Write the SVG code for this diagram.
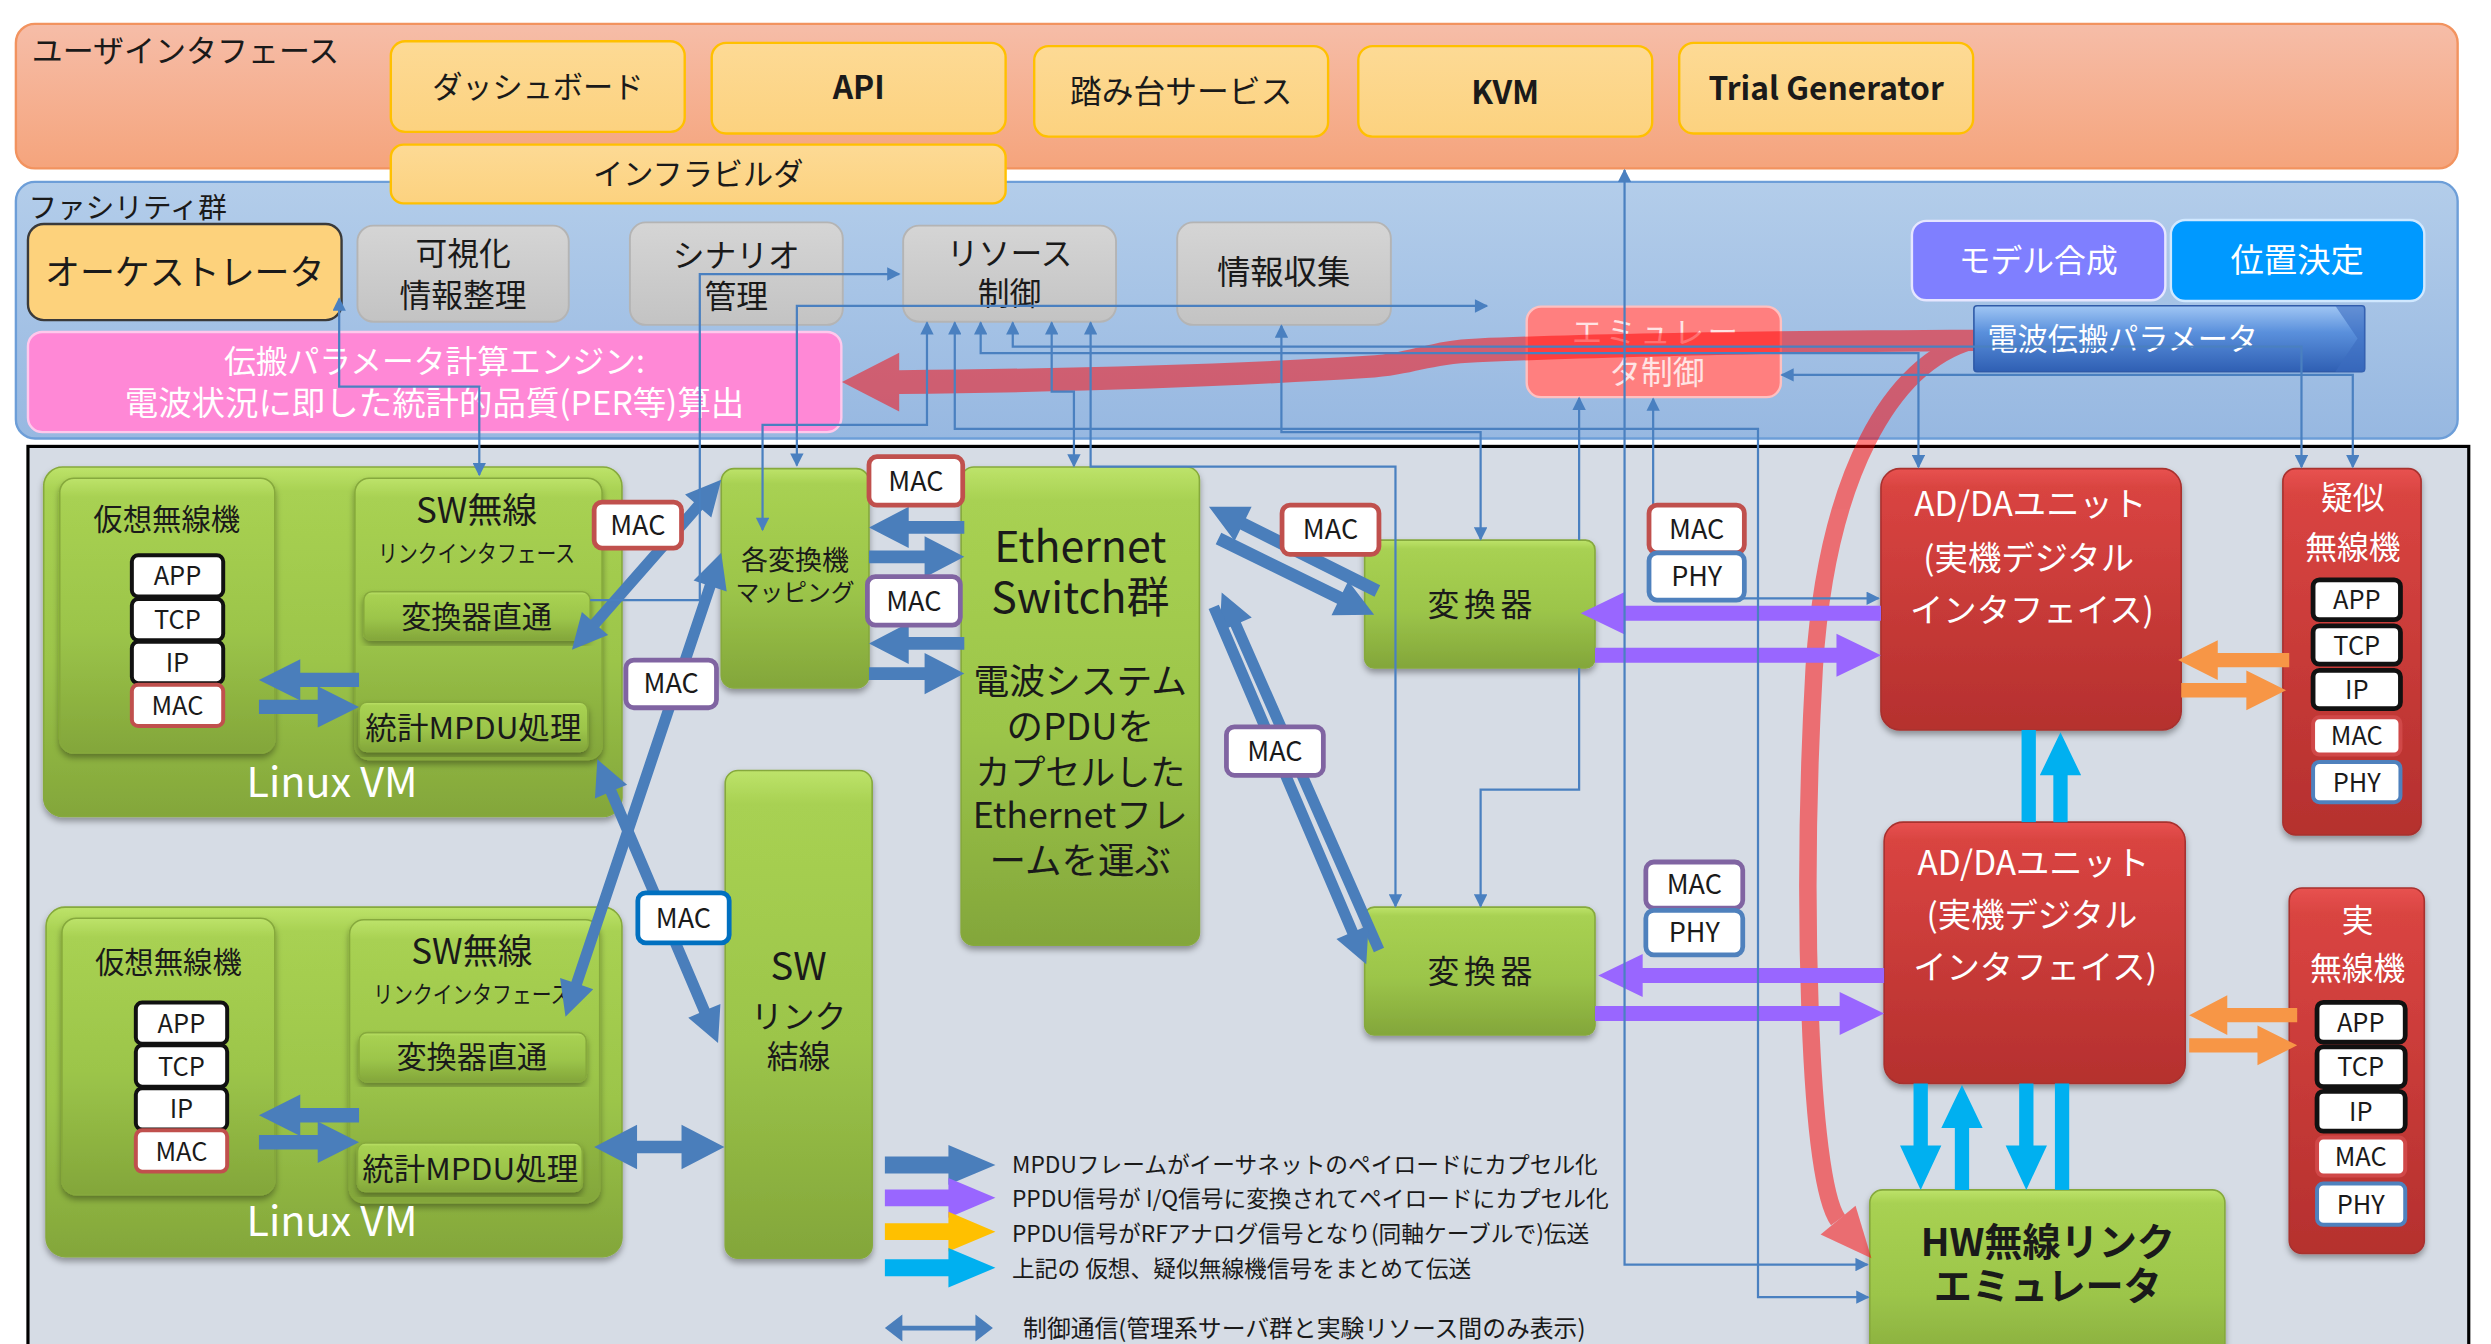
<svg xmlns="http://www.w3.org/2000/svg" width="2491" height="1344" viewBox="0 0 2491 1344">
<defs>
<style>
text{font-family:"Noto Sans CJK JP","Noto Sans",sans-serif;fill:#1a1a1a}
.c{text-anchor:middle}
.w{fill:#fff}
.b{font-weight:bold}
.grn{fill:url(#gGreen);stroke:#86a93c;stroke-width:1;filter:url(#sh)}
.red{fill:url(#gRed);stroke:#a8302e;stroke-width:1;filter:url(#sh)}
.gry{fill:url(#gGray);stroke:#b4b4b4;stroke-width:1.2}
.yel{fill:url(#gYel);stroke:#ffc000;stroke-width:1.5}
.lbl{fill:#fff;stroke-width:3}
.stk{fill:#fff;stroke:#111;stroke-width:2.5}
.mpdu{fill:#4a7ebb}
.ppdu{fill:#9966ff}
.org{fill:#f79646}
.cy{fill:#00b0f0}
.ctl{fill:none;stroke:#4a80c0;stroke-width:1.4;marker-start:url(#ah);marker-end:url(#ah)}
.ctl1{fill:none;stroke:#4a80c0;stroke-width:1.4;marker-end:url(#ah)}
.ctl0{fill:none;stroke:#4a80c0;stroke-width:1.4;marker-start:url(#ah)}
.lg{font-size:14.3px}
</style>
<linearGradient id="gUI" x1="0" y1="0" x2="0" y2="1"><stop offset="0" stop-color="#f6bda8"/><stop offset="1" stop-color="#f5a47c"/></linearGradient>
<linearGradient id="gFac" x1="0" y1="0" x2="0" y2="1"><stop offset="0" stop-color="#b3cdea"/><stop offset="1" stop-color="#97b8e1"/></linearGradient>
<linearGradient id="gYel" x1="0" y1="0" x2="0" y2="1"><stop offset="0" stop-color="#fdda95"/><stop offset="1" stop-color="#fcd27f"/></linearGradient>
<linearGradient id="gGray" x1="0" y1="0" x2="0" y2="1"><stop offset="0" stop-color="#d5d5d5"/><stop offset="1" stop-color="#c3c3c3"/></linearGradient>
<linearGradient id="gGreen" x1="0" y1="0" x2="0" y2="1"><stop offset="0" stop-color="#bde36a"/><stop offset="0.07" stop-color="#a8d152"/><stop offset="0.55" stop-color="#9cc54a"/><stop offset="1" stop-color="#83a63a"/></linearGradient>
<linearGradient id="gRed" x1="0" y1="0" x2="0" y2="1"><stop offset="0" stop-color="#e85250"/><stop offset="0.07" stop-color="#d94441"/><stop offset="1" stop-color="#b5302e"/></linearGradient>
<linearGradient id="gDen" x1="0" y1="0" x2="0" y2="1"><stop offset="0" stop-color="#a0c6f4"/><stop offset="0.4" stop-color="#5a90dc"/><stop offset="1" stop-color="#2f5fb3"/></linearGradient>
<filter id="sh" x="-5%" y="-5%" width="110%" height="115%"><feDropShadow dx="0" dy="2.5" stdDeviation="2" flood-color="#000" flood-opacity="0.35"/></filter>
<marker id="ah" viewBox="0 0 10 10" refX="9" refY="5" markerWidth="6.5" markerHeight="6" orient="auto-start-reverse"><path d="M0,0 L10,5 L0,10 z" fill="#4a80c0"/></marker>
</defs>
<g transform="scale(1.58865)">

<!-- bands -->
<g id="ui-band"><rect x="10" y="15" width="1537" height="91" rx="12" fill="url(#gUI)" stroke="#f2935f" stroke-width="1.5"/><text x="20" y="39" font-size="19.5">ユーザインタフェース</text></g>
<g id="facility-band"><rect x="10" y="114.5" width="1537" height="161.5" rx="12" fill="url(#gFac)" stroke="#6d9ed8" stroke-width="1.5"/><text x="18" y="137.5" font-size="18">ファシリティ群</text></g>
<g id="lab-panel"><rect x="17.6" y="281" width="1536.4" height="600" fill="#d6dce5" stroke="#000" stroke-width="2"/></g>

<!-- UI nodes -->
<g id="dashboard"><rect class="yel" x="246" y="26" width="185" height="57" rx="9"/><text class="c" x="338.5" y="62" font-size="19">ダッシュボード</text></g>
<g id="api"><rect class="yel" x="448" y="27" width="185" height="57" rx="9"/><text class="c b" x="540.5" y="62.5" font-size="20">API</text></g>
<g id="fumidai"><rect class="yel" x="651" y="29" width="185" height="57" rx="9"/><text class="c" x="743.5" y="65" font-size="20">踏み台サービス</text></g>
<g id="kvm"><rect class="yel" x="855" y="29" width="185" height="57" rx="9"/><text class="c b" x="947.5" y="65.5" font-size="20">KVM</text></g>
<g id="trial-generator"><rect class="yel" x="1057" y="27" width="185" height="57" rx="9"/><text class="c b" x="1149.5" y="63" font-size="20">Trial Generator</text></g>
<g id="infra-builder"><rect class="yel" x="246" y="91" width="387" height="37" rx="8"/><text class="c" x="439.5" y="116.5" font-size="19">インフラビルダ</text></g>

<!-- Facility nodes -->
<g id="orchestrator"><rect x="17.6" y="141" width="197.4" height="60.5" rx="10" fill="#fdd27c" stroke="#3a3a3a" stroke-width="1.5"/><text class="c" x="116.3" y="179.5" font-size="22">オーケストレータ</text></g>
<g id="visualize"><rect class="gry" x="225" y="142" width="133" height="60.5" rx="10"/><text class="c" x="291.5" y="167" font-size="20">可視化</text><text class="c" x="291.5" y="193.5" font-size="20">情報整理</text></g>
<g id="scenario"><rect class="gry" x="396.5" y="140" width="134" height="64.5" rx="10"/><text class="c" x="463.5" y="168" font-size="20">シナリオ</text><text class="c" x="463.5" y="194" font-size="20">管理</text></g>
<g id="resource"><rect class="gry" x="568.5" y="142" width="134" height="60.5" rx="10"/><text class="c" x="635.5" y="166.5" font-size="20">リソース</text><text class="c" x="635.5" y="192" font-size="20">制御</text></g>
<g id="info-collect"><rect class="gry" x="741" y="140" width="134.5" height="64.5" rx="10"/><text class="c" x="808" y="179" font-size="21">情報収集</text></g>
<g id="model"><rect x="1203.5" y="139" width="159.5" height="50" rx="9" fill="#7f7fff" stroke="#e6e6ff" stroke-width="1.5"/><text class="c w" x="1283" y="171" font-size="20">モデル合成</text></g>
<g id="position"><rect x="1366.5" y="138.5" width="159.5" height="51" rx="9" fill="#0099ff" stroke="#d0e8ff" stroke-width="1.5"/><text class="c w" x="1446" y="171" font-size="21">位置決定</text></g>
<g id="engine"><rect x="17.6" y="209" width="512" height="63" rx="9" fill="#ff88d6" stroke="#ffc8ec" stroke-width="1.5"/><text class="c w" x="273.5" y="235" font-size="20">伝搬パラメータ計算エンジン:</text><text class="c w" x="273.5" y="261" font-size="20.5" textLength="390" lengthAdjust="spacingAndGlyphs">電波状況に即した統計的品質(PER等)算出</text></g>
<g id="emu-control"><rect x="961" y="193" width="160" height="57" rx="9" fill="#ff7f7f" stroke="#ffc0c0" stroke-width="1.5"/><text class="c" x="1043" y="216" font-size="19" letter-spacing="2.5" style="fill:#ffe4e4">エミュレー</text><text class="c" x="1043" y="242" font-size="20" style="fill:#ffe4e4">タ制御</text></g>

<!-- Lab nodes -->
<g id="linux-vm-1">
<rect class="grn" x="27.5" y="294" width="364" height="220" rx="12"/>
<rect class="grn" x="37.6" y="301" width="135.4" height="173" rx="9"/>
<rect class="grn" x="223.4" y="301" width="155.6" height="177" rx="9"/>
<rect class="grn" x="229" y="372.5" width="142.5" height="30.5" rx="5"/>
<rect class="grn" x="226" y="442" width="144" height="31" rx="5"/>
<text class="c" x="105" y="333.5" font-size="18.5">仮想無線機</text>
<text class="c" x="300" y="329.5" font-size="22">SW無線</text>
<text class="c" x="300" y="354" font-size="15" textLength="124" lengthAdjust="spacingAndGlyphs">リンクインタフェース</text>
<text class="c" x="300" y="395" font-size="19">変換器直通</text>
<text class="c" x="298" y="465" font-size="19" textLength="136" lengthAdjust="spacingAndGlyphs">統計MPDU処理</text>
<text class="c w" x="209" y="501.5" font-size="26">Linux VM</text>
<rect class="stk" x="83" y="349.5" width="57.5" height="26" rx="4"/><text class="c" x="111.7" y="368.5" font-size="16">APP</text>
<rect class="stk" x="83" y="377" width="57.5" height="26" rx="4"/><text class="c" x="111.7" y="396" font-size="16">TCP</text>
<rect class="stk" x="83" y="404" width="57.5" height="26" rx="4"/><text class="c" x="111.7" y="423" font-size="16">IP</text>
<rect class="stk" x="83" y="431" width="57.5" height="26" rx="4" style="stroke:#c0504d"/><text class="c" x="111.7" y="450" font-size="16">MAC</text>
</g>
<g id="linux-vm-2">
<rect class="grn" x="29" y="571" width="362.5" height="220" rx="12"/>
<rect class="grn" x="39" y="578" width="134" height="174" rx="9"/>
<rect class="grn" x="220" y="579" width="157.5" height="178" rx="9"/>
<rect class="grn" x="226" y="650" width="143" height="31" rx="5"/>
<rect class="grn" x="225" y="719.5" width="141.5" height="30.5" rx="5"/>
<text class="c" x="106" y="612.5" font-size="18.5">仮想無線機</text>
<text class="c" x="297" y="607" font-size="22">SW無線</text>
<text class="c" x="297" y="631.5" font-size="15" textLength="124" lengthAdjust="spacingAndGlyphs">リンクインタフェース</text>
<text class="c" x="297" y="672.5" font-size="19">変換器直通</text>
<text class="c" x="296" y="742.5" font-size="19" textLength="136" lengthAdjust="spacingAndGlyphs">統計MPDU処理</text>
<text class="c w" x="209" y="778" font-size="26">Linux VM</text>
<rect class="stk" x="85.5" y="631" width="57.5" height="26" rx="4"/><text class="c" x="114.2" y="650" font-size="16">APP</text>
<rect class="stk" x="85.5" y="658" width="57.5" height="26" rx="4"/><text class="c" x="114.2" y="677" font-size="16">TCP</text>
<rect class="stk" x="85.5" y="685" width="57.5" height="26" rx="4"/><text class="c" x="114.2" y="704" font-size="16">IP</text>
<rect class="stk" x="85.5" y="711.5" width="57.5" height="26" rx="4" style="stroke:#c0504d"/><text class="c" x="114.2" y="730.5" font-size="16">MAC</text>
</g>
<g id="mapping"><rect class="grn" x="454" y="295" width="93" height="138" rx="8"/><text class="c" x="500.5" y="358.5" font-size="17">各変換機</text><text class="c" x="500.5" y="378.5" font-size="15">マッピング</text></g>
<g id="sw-link"><rect class="grn" x="456.5" y="485" width="92.5" height="307" rx="8"/><text class="c" x="502.7" y="617" font-size="24">SW</text><text class="c" x="502.7" y="647" font-size="20">リンク</text><text class="c" x="502.7" y="672" font-size="20">結線</text></g>
<g id="ethernet-switch"><rect class="grn" x="605" y="294" width="150" height="301" rx="8"/>
<text class="c" x="680" y="354" font-size="27">Ethernet</text>
<text class="c" x="680" y="386" font-size="27">Switch群</text>
<text class="c" x="680" y="437" font-size="22.5">電波システム</text>
<text class="c" x="680" y="466" font-size="23">のPDUを</text>
<text class="c" x="680" y="494" font-size="22">カプセルした</text>
<text class="c" x="680" y="521" font-size="22.5">Ethernetフレ</text>
<text class="c" x="680" y="550" font-size="23">ームを運ぶ</text></g>
<g id="converter-1"><rect class="grn" x="859" y="340" width="145" height="80.5" rx="6"/><text class="c" x="933" y="388" font-size="20" letter-spacing="3">変換器</text></g>
<g id="converter-2"><rect class="grn" x="859" y="571" width="145" height="80.5" rx="6"/><text class="c" x="933" y="619" font-size="20" letter-spacing="3">変換器</text></g>
<g id="adda-1"><rect class="red" x="1184" y="295" width="189" height="164.5" rx="12"/><text class="c w" x="1278" y="324.5" font-size="21">AD/DAユニット</text><text class="c w" x="1277" y="359" font-size="21">(実機デジタル</text><text class="c w" x="1279" y="391.5" font-size="21">インタフェイス)</text></g>
<g id="adda-2"><rect class="red" x="1186" y="517.5" width="189.5" height="164.5" rx="12"/><text class="c w" x="1280" y="550.5" font-size="21">AD/DAユニット</text><text class="c w" x="1279" y="583.5" font-size="21">(実機デジタル</text><text class="c w" x="1281" y="616.5" font-size="21">インタフェイス)</text></g>
<g id="pseudo-radio"><rect class="red" x="1437" y="295" width="87" height="230.5" rx="8"/>
<text class="c w" x="1481" y="320.5" font-size="20">疑似</text><text class="c w" x="1481" y="352" font-size="20">無線機</text>
<rect class="stk" x="1456" y="365" width="55" height="25" rx="4" style="stroke-width:3"/><text class="c" x="1483.5" y="383.5" font-size="16">APP</text>
<rect class="stk" x="1456" y="394" width="55" height="24" rx="4" style="stroke-width:3"/><text class="c" x="1483.5" y="412" font-size="16">TCP</text>
<rect class="stk" x="1456" y="422" width="55" height="24" rx="4" style="stroke-width:3"/><text class="c" x="1483.5" y="440" font-size="16">IP</text>
<rect class="stk" x="1456" y="451.5" width="55" height="23.5" rx="4" style="stroke:#d04848"/><text class="c" x="1483.5" y="469" font-size="16">MAC</text>
<rect class="stk" x="1456" y="479.6" width="55" height="25.4" rx="4" style="stroke:#4f81bd"/><text class="c" x="1483.5" y="498.5" font-size="16">PHY</text></g>
<g id="real-radio"><rect class="red" x="1441" y="559" width="85" height="230" rx="8"/>
<text class="c w" x="1484" y="586.5" font-size="20">実</text><text class="c w" x="1484" y="617" font-size="20">無線機</text>
<rect class="stk" x="1458.5" y="631" width="55.5" height="25" rx="4" style="stroke-width:3"/><text class="c" x="1486" y="649.5" font-size="16">APP</text>
<rect class="stk" x="1458.5" y="659" width="55.5" height="25" rx="4" style="stroke-width:3"/><text class="c" x="1486" y="677.5" font-size="16">TCP</text>
<rect class="stk" x="1458.5" y="687" width="55.5" height="25" rx="4" style="stroke-width:3"/><text class="c" x="1486" y="705.5" font-size="16">IP</text>
<rect class="stk" x="1458.5" y="716" width="55.5" height="24" rx="4" style="stroke:#d04848"/><text class="c" x="1486" y="734" font-size="16">MAC</text>
<rect class="stk" x="1458.5" y="745" width="55.5" height="26" rx="4" style="stroke:#4f81bd"/><text class="c" x="1486" y="764" font-size="16">PHY</text></g>
<g id="hw-emulator"><rect class="grn" x="1177" y="749" width="223.5" height="120" rx="8"/><text class="c b" x="1289" y="790.5" font-size="24">HW無線リンク</text><text class="c b" x="1289" y="818.5" font-size="24">エミュレータ</text></g>

<!-- red propagation arrows -->
<g id="propagation-flow" opacity="0.5">
<path d="M1243,207.5 C1120,208 1000,210 930,213 C900,214 890,222 860,224 C780,229 680,232 566,233 L566,222 L530,240.5 L566,259 L566,248 C680,247 780,243 860,238 C890,236 900,229 930,228 C1000,225 1120,222 1243,221 Z" fill="#ff0000"/>
<path d="M1243,214 C1190,228 1150,300 1142,420 C1134,560 1138,742 1157,768" fill="none" stroke="#ff0000" stroke-width="11"/>
<polygon points="1178,792 1168,759 1146,777" fill="#ff0000"/>
</g>
<g id="radio-param"><rect x="1242.5" y="192.5" width="246" height="41.5" rx="2" fill="url(#gDen)" stroke="#2f5aa8" stroke-width="1"/><polygon points="1470,192.5 1488.5,192.5 1488.5,234 1470,234 1484,213" fill="#3c6cc0" opacity="0.6"/><text class="w" x="1251" y="220" font-size="19">電波伝搬パラメータ</text></g>

<!-- thick data arrows -->
<g id="data-arrows">
<polygon class="mpdu" points="226,423.5 189,423.5 189,415 163,428 189,441 189,432.5 226,432.5"/>
<polygon class="mpdu" points="163,440.5 200,440.5 200,432 226,445 200,458 200,449.5 163,449.5"/>
<polygon class="mpdu" points="226,697.5 189,697.5 189,689 163,702 189,715 189,706.5 226,706.5"/>
<polygon class="mpdu" points="163,714.5 200,714.5 200,706 226,719 200,732 200,723.5 163,723.5"/>
<polygon class="mpdu" points="374,722 401,708 401,718 429,718 429,708 456,722 429,736 429,726 401,726 401,736"/>
<polygon class="mpdu" points="607,328 572,328 572,319 547,332 572,345 572,336 607,336"/>
<polygon class="mpdu" points="547,346.5 582,346.5 582,337.5 607,350.5 582,363.5 582,354.5 547,354.5"/>
<polygon class="mpdu" points="607,401 572,401 572,392 547,405 572,418 572,409 607,409"/>
<polygon class="mpdu" points="547,420 582,420 582,411 607,424 582,437 582,428 547,428"/>
<path class="mpdu" transform="translate(454,302) rotate(131.3)" d="M0,0 L22,-11 L22,-3.5 L120.4,-3.5 L120.4,-11 L142.4,0 L120.4,11 L120.4,3.5 L22,3.5 L22,11 Z"/>
<path class="mpdu" transform="translate(454,348) rotate(108.56)" d="M0,0 L22,-11 L22,-3.5 L286,-3.5 L286,-11 L308,0 L286,11 L286,3.5 L22,3.5 L22,11 Z"/>
<path class="mpdu" transform="translate(376,478) rotate(66.94)" d="M0,0 L22,-11 L22,-3.5 L172,-3.5 L172,-11 L194,0 L172,11 L172,3.5 L22,3.5 L22,11 Z"/>
<path class="mpdu" transform="translate(867,372) rotate(-153.43)" d="M0,-4 L94.5,-4 L94.5,-12 L118.5,0 L94.5,12 L94.5,4 L0,4 Z"/>
<path class="mpdu" transform="translate(767,339) rotate(26.09)" d="M0,-4 L85.1,-4 L85.1,-12 L109.1,0 L85.1,12 L85.1,4 L0,4 Z"/>
<path class="mpdu" transform="translate(868,598) rotate(-113.75)" d="M0,-3.5 L223.8,-3.5 L223.8,-11 L245.8,0 L223.8,11 L223.8,3.5 L0,3.5 Z"/>
<path class="mpdu" transform="translate(764,382) rotate(66.89)" d="M0,-3.5 L222.6,-3.5 L222.6,-11 L244.6,0 L222.6,11 L222.6,3.5 L0,3.5 Z"/>
<polygon class="ppdu" points="1184,381.3 1023,381.3 1023,372.5 995,386 1023,399.5 1023,390.7 1184,390.7"/>
<polygon class="ppdu" points="1004,407.8 1156,407.8 1156,399 1184,412.5 1156,426 1156,417.2 1004,417.2"/>
<polygon class="ppdu" points="1186,609.3 1034,609.3 1034,600.5 1006,614 1034,627.5 1034,618.7 1186,618.7"/>
<polygon class="ppdu" points="1004,633.3 1158,633.3 1158,624.5 1186,638 1158,651.5 1158,642.7 1004,642.7"/>
<polygon class="org" points="1441,411 1396,411 1396,403 1371,415.5 1396,428 1396,420 1441,420"/>
<polygon class="org" points="1373,430 1414,430 1414,422 1439,434.5 1414,447 1414,439 1373,439"/>
<polygon class="org" points="1446,634.5 1402,634.5 1402,626.5 1378,639 1402,651.5 1402,643.5 1446,643.5"/>
<polygon class="org" points="1378,653.5 1421,653.5 1421,645.5 1446,658 1421,670.5 1421,662.5 1378,662.5"/>
<rect class="cy" x="1272.5" y="459.5" width="9" height="58"/>
<polygon class="cy" points="1292.5,517.5 1292.5,488 1284,488 1297,461 1310,488 1301.5,488 1301.5,517.5"/>
<polygon class="cy" points="1204.5,682 1204.5,721 1196,721 1209,749 1222,721 1213.5,721 1213.5,682"/>
<polygon class="cy" points="1230.5,749 1230.5,710 1222,710 1235,683 1248,710 1239.5,710 1239.5,749"/>
<polygon class="cy" points="1271,682 1271,721 1262.5,721 1275.5,749 1288.5,721 1280,721 1280,682"/>
<rect class="cy" x="1293.5" y="682" width="9" height="67"/>
</g>

<!-- control connectors -->
<g id="connectors">
<path class="ctl" d="M213.5,188 V243.4 H301.7 V299"/>
<path class="ctl1" d="M371.5,377.7 H440.5 V172.5 H566"/>
<path class="ctl" d="M501.6,293 V192.6 H936"/>
<path class="ctl" d="M583.5,203 V267.5 H480 V333.5"/>
<path class="ctl" d="M601,203 V270 H1106.6 V816.5 H1176"/>
<path class="ctl" d="M806.6,205 V272 H932 V339.5"/>
<path class="ctl" d="M686.5,203 V293.7 H878.4 V570.5"/>
<path class="ctl" d="M662,203 V246.5 H676 V293.5"/>
<path class="ctl0" d="M994,250.5 V340"/>
<path class="ctl1" d="M994,420.5 V497 H932 V570.5"/>
<path class="ctl" d="M1022.6,107 V796 H1175.5"/>
<path class="ctl" d="M1040.6,251 V376.6 H1182.5"/>
<path class="ctl" d="M617.3,203 V222.3 H1207.6 V294"/>
<path class="ctl" d="M637.5,203 V218.2 H1448.7 V294"/>
<path class="ctl" d="M1121.5,236 H1481 V294"/>
</g>

<!-- MAC / PHY labels -->
<g id="mac-labels">
<rect class="lbl" x="374" y="316" width="55" height="29" rx="5" stroke="#c0504d"/><text class="c" x="401.5" y="336.5" font-size="17">MAC</text>
<rect class="lbl" x="394" y="415.5" width="57" height="30" rx="5" stroke="#8064a2"/><text class="c" x="422.5" y="436.5" font-size="17">MAC</text>
<rect class="lbl" x="547" y="287.5" width="59" height="30.5" rx="5" stroke="#c0504d"/><text class="c" x="576.5" y="309" font-size="17">MAC</text>
<rect class="lbl" x="546" y="363" width="58.5" height="30.5" rx="5" stroke="#8064a2"/><text class="c" x="575.2" y="384.5" font-size="17">MAC</text>
<rect class="lbl" x="401.5" y="562" width="57.5" height="31.5" rx="5" stroke="#0070c0"/><text class="c" x="430.2" y="584" font-size="17">MAC</text>
<rect class="lbl" x="807" y="318" width="61" height="31" rx="5" stroke="#c0504d"/><text class="c" x="837.5" y="339.5" font-size="17">MAC</text>
<rect class="lbl" x="772" y="457.5" width="61" height="30.5" rx="5" stroke="#8064a2"/><text class="c" x="802.5" y="479" font-size="17">MAC</text>
<rect class="lbl" x="1038" y="318" width="60" height="30" rx="5" stroke="#c0504d"/><text class="c" x="1068" y="339" font-size="17">MAC</text>
<rect class="lbl" x="1038" y="348" width="60" height="29.7" rx="5" stroke="#4f81bd"/><text class="c" x="1068" y="369" font-size="17">PHY</text>
<rect class="lbl" x="1036" y="542.6" width="61" height="29" rx="5" stroke="#8064a2"/><text class="c" x="1066.5" y="563" font-size="17">MAC</text>
<rect class="lbl" x="1036" y="573" width="61" height="28" rx="5" stroke="#4f81bd"/><text class="c" x="1066.5" y="593" font-size="17">PHY</text>
</g>

<!-- legend -->
<g id="legend">
<polygon class="mpdu" points="557,728 597,728 597,720.8 626.6,733.3 597,745.8 597,738.6 557,738.6"/>
<polygon class="ppdu" points="557,748.7 597,748.7 597,741.5 626.6,754 597,766.5 597,759.3 557,759.3"/>
<polygon points="557,770 597,770 597,762.8 626.6,775.3 597,787.8 597,780.6 557,780.6" fill="#ffc000"/>
<polygon class="cy" points="557,792.7 597,792.7 597,785.5 626.6,798 597,810.5 597,803.3 557,803.3"/>
<text class="lg" x="637" y="738.5">MPDUフレームがイーサネットのペイロードにカプセル化</text>
<text class="lg" x="637" y="760">PPDU信号が I/Q信号に変換されてペイロードにカプセル化</text>
<text class="lg" x="637" y="781.5">PPDU信号がRFアナログ信号となり(同軸ケーブルで)伝送</text>
<text class="lg" x="637" y="804">上記の 仮想、疑似無線機信号をまとめて伝送</text>
<polygon class="mpdu" points="557,836 568,827.5 568,834.5 614,834.5 614,827.5 625,836 614,844.5 614,837.5 568,837.5 568,844.5"/>
<text x="644" y="841.5" font-size="15">制御通信(管理系サーバ群と実験リソース間のみ表示)</text>
</g>

</g>
</svg>
